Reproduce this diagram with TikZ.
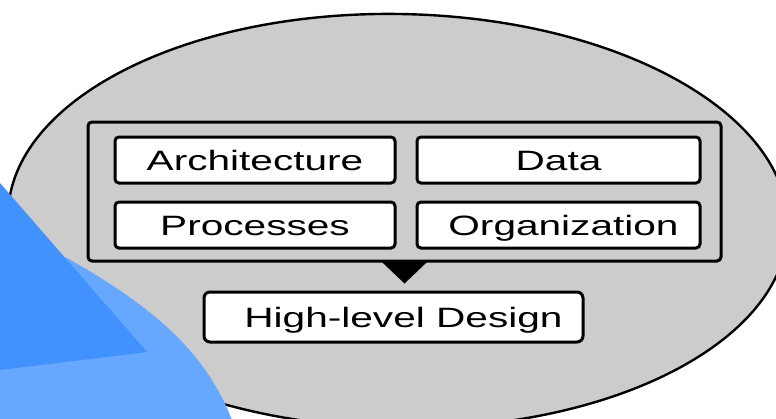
\documentclass[tikz,border=0pt]{standalone}
\usepackage{fontspec}
\setmainfont{Liberation Sans}
\usepackage{graphicx}
\usetikzlibrary{arrows.meta}

\definecolor{ovalgray}{HTML}{CCCCCC}
\definecolor{deepblue}{HTML}{4191FF}
\definecolor{paleblue}{HTML}{66A8FF}

% text set wide, as in the drawing
\newcommand\widetext[1]{\scalebox{1.45}[1]{#1}}

\tikzset{
  part/.style={draw, line width=1.5pt, rounded corners=2pt, fill=white,
    minimum height=23pt, inner sep=0pt, text height=10pt, text depth=0pt,
    font=\fontsize{14pt}{16pt}\selectfont},
  frame/.style={draw, line width=1.5pt, rounded corners=2pt,
    inner sep=0pt},
}

\begin{document}
\begin{tikzpicture}[x=0.5pt, y=-0.5pt]
  \useasboundingbox (0,0) rectangle (776,418);
  \clip (0,0) rectangle (776,418);

  % grey oval behind everything
  \draw[fill=ovalgray, line width=1.2pt, rotate around={-1:(398,221)}]
    (398,221) ellipse [x radius=390, y radius=207];

  % blue wedges in the lower left corner
  \fill[paleblue] (0,200) -- (60,256) -- (67,258)
    .. controls (150,305) and (205,350) .. (232,420) -- (0,420) -- cycle;
  \fill[deepblue] (0,183) -- (147,352) -- (0,370) -- cycle;

  % frame around the four parts
  \node[frame, minimum width=316.5pt, minimum height=69.5pt]
    (group) at (404.5,191.5) {};

  \node[part, minimum width=140pt] (arch) at (255,160) {\widetext{Architecture}};
  \node[part, minimum width=140pt] (proc) at (255,225) {\widetext{Processes}};
  \node[part, minimum width=141.5pt] (data) at (558.5,160) {\widetext{Data}};
  \node[part, minimum width=141.5pt] (org) at (558.5,225)
    {\hspace*{5pt}\widetext{Organization}};

  \node[part, minimum width=189.5pt, minimum height=25pt, rounded corners=3pt]
    (design) at (393.5,317) {\hspace*{10pt}\widetext{High-level Design}};

  % arrow from the group down to the design
  \draw[line width=1pt, -{Triangle[width=24pt, length=11.5pt]}, shorten >=3.5pt]
    (group.south) -- (group.south |- design.north);
\end{tikzpicture}
\end{document}
